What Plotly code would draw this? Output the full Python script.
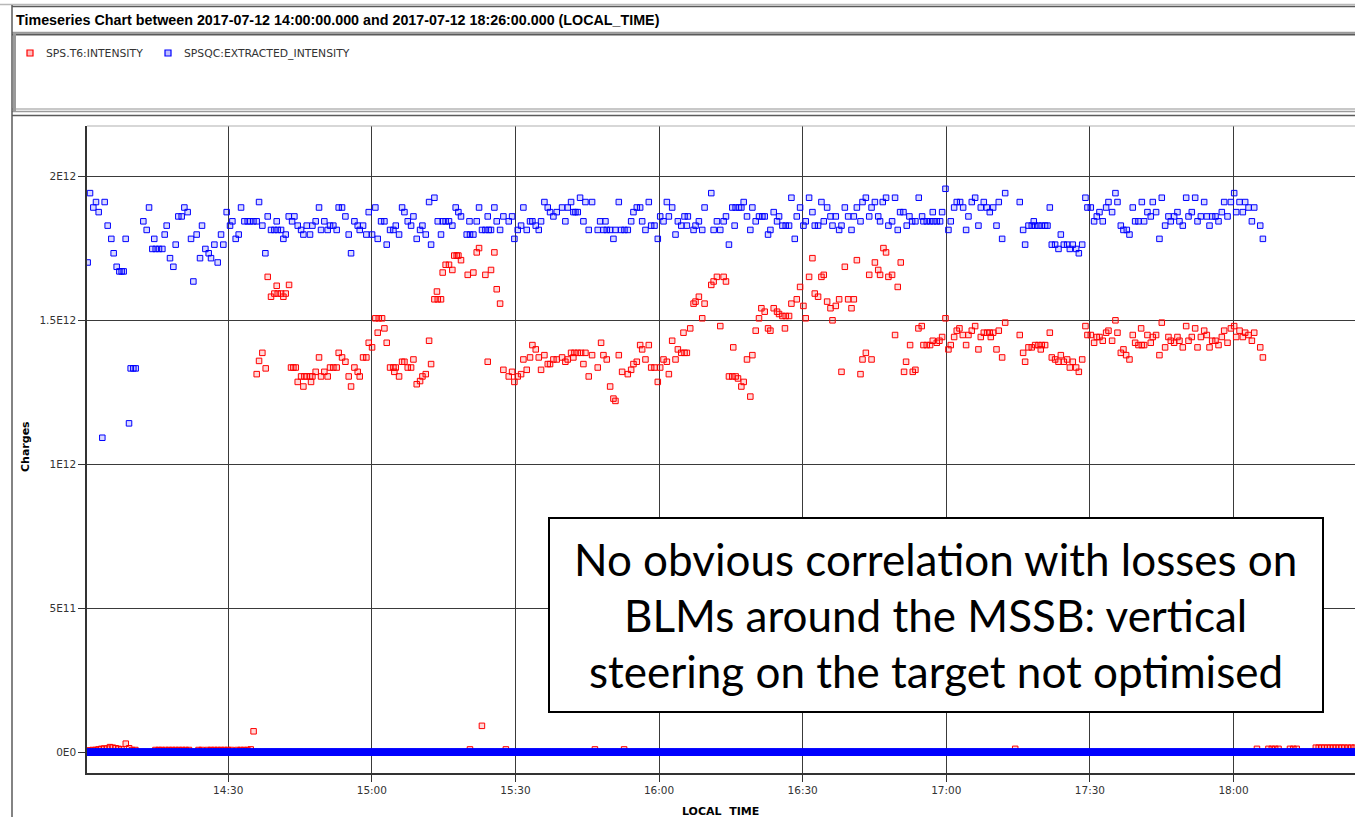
import numpy as np
import pandas as pd
import plotly.graph_objects as go

# ---------------- data (minutes after 14:00, values in units of 1E12 charges) ----------------
red_min = [
    0.5, 1.1, 1.7, 2.3, 2.9, 3.5, 4.1, 4.7, 5.3, 5.9, 6.5, 7.1, 7.7, 8.6, 9.3, 9.9, 10.6,
    14.8, 15.5, 16.1, 16.9, 17.6, 18.3, 19.0, 19.7, 20.4, 21.1, 21.8, 23.8, 24.5, 25.7, 26.4,
    27.1, 27.8, 28.5, 29.2, 29.9, 30.6, 31.9, 32.6, 33.3, 34.0, 34.7, 35.3,
    35.95, 36.44, 37.13, 37.83, 38.25, 38.94, 39.64, 40.13, 40.34, 41.04, 41.52, 42.01, 42.71,
    43.12, 43.61, 44.10, 44.52, 45.22, 45.70, 45.91, 46.39, 47.09, 47.30, 47.58, 48.27, 48.97,
    49.39, 50.08, 50.78, 51.27, 51.96, 52.66, 53.08, 53.78, 54.48, 55.17, 55.66, 56.36, 57.05,
    57.47, 58.17, 58.86, 59.35, 60.05, 60.74, 61.23, 61.45, 62.14, 62.63, 63.11, 63.81, 64.51,
    64.70, 65.00, 65.69, 66.32, 66.81, 67.50, 68.20, 68.69, 69.38, 70.08, 70.57, 71.27, 71.96,
    72.38, 73.07, 73.60, 73.77,
    74.45, 74.80, 75.42, 76.12, 76.82, 77.22, 77.73, 78.08, 78.63, 80.03, 81.21, 81.91, 82.40,
    83.72, 84.90, 85.60, 86.09, 86.79, 84.21, 87.48, 88.60, 89.30, 89.78, 90.48, 91.18, 91.66,
    92.36, 93.05, 93.54, 94.24, 94.87, 95.35, 96.05, 96.75, 97.23, 97.93, 98.63, 99.74, 100.43,
    100.92, 101.62, 102.10, 102.32, 103.02, 103.71, 104.20, 104.62, 105.31, 106.01, 107.19,
    107.89, 108.38, 109.08, 109.78, 110.47, 110.89, 111.59, 112.28, 113.47, 114.17, 114.65,
    115.35, 116.05, 116.47, 117.16, 117.86, 118.35, 119.05, 119.74, 120.24, 120.93, 121.63,
    122.05, 122.74, 123.44, 123.93, 124.63, 125.10, 125.32, 125.81, 126.51, 127.21, 127.62,
    128.32, 129.02, 129.51, 130.91, 131.40, 132.09, 132.79, 133.49, 133.98, 134.60, 135.30,
    135.50, 136.00, 136.49, 137.19, 137.68, 138.37, 139.07, 139.49, 140.19, 140.88, 141.37,
    142.07, 142.77, 143.26, 143.95, 144.65, 145.07, 145.77, 146.30, 146.46, 147.16, 147.65,
    148.77, 149.46, 150.16, 150.64, 151.34, 152.04, 152.53, 153.22, 153.92, 154.41, 155.11,
    155.81, 156.23, 156.92, 157.62, 158.11, 158.81, 159.50, 160.20, 160.69, 161.32, 162.08,
    162.50, 163.20, 163.90, 164.39, 165.09, 165.78,
    166.17, 166.87, 167.42, 167.91, 168.68, 169.30, 169.86, 170.49, 171.18, 171.60, 172.44,
    173.00, 173.55, 174.18, 174.88, 175.23, 175.92, 176.62, 177.18, 178.02, 178.57, 179.13,
    179.83, 180.45, 180.94, 181.64, 182.19, 182.75, 183.45, 184.14, 184.63, 185.33, 186.03,
    186.72, 187.21, 187.84, 188.54, 189.09, 189.30, 189.79, 190.49, 190.97, 191.67, 192.30,
    195.35, 196.05, 196.47, 197.17, 197.86, 198.56, 199.26, 199.74, 199.95, 200.65, 201.63,
    202.04, 202.74, 203.44, 203.93, 204.55, 205.25, 205.81, 206.43, 207.13, 207.69, 208.39,
    209.07, 209.49, 210.19, 210.88, 211.44, 212.00, 212.69, 213.39, 213.88, 214.64, 215.34,
    215.76, 216.46, 217.01, 217.57, 218.27, 218.96, 219.45, 220.15, 220.70, 220.85, 221.33,
    222.02, 222.72, 223.14, 223.83, 224.53, 225.02, 225.71, 226.41, 226.90, 227.60, 228.29,
    228.71, 229.41, 230.11, 230.60, 231.29, 231.99, 232.48, 233.18, 233.87, 234.43, 234.99,
    235.54, 236.24, 236.87, 237.56, 238.05, 238.75, 239.45, 240.14, 240.56, 241.26, 241.95,
    242.44, 243.14, 243.84, 244.33, 245.58, 246.14,
    80.5, 83.0, 88.0, 106.6, 112.7, 194.4, 244.9, 247.3, 248.0, 248.7, 249.4, 251.8, 252.5,
    253.2, 257.2, 257.8, 258.4, 259.0, 259.6, 260.2, 260.8, 261.4, 262.0, 262.6, 263.2, 263.9,
    264.6, 265.3,
]
red_val = [
    .006, .006, .008, .008, .010, .012, .013, .013, .018, .016, .014, .012, .010, .030, .014, .008, .008,
    .008, .008, .008, .008, .008, .008, .008, .008, .008, .008, .008, .008, .008, .008, .008,
    .008, .008, .008, .008, .008, .008, .008, .008, .008, .008, .010, .073,
    1.314, 1.360, 1.388, 1.334, 1.652, 1.583, 1.594, 1.621, 1.594, 1.594, 1.583, 1.594, 1.624,
    1.337, 1.337, 1.337, 1.287, 1.306, 1.271, 1.306, 1.306, 1.306, 1.287, 1.306, 1.322, 1.372,
    1.306, 1.322, 1.306, 1.337, 1.337, 1.337, 1.388, 1.372, 1.357, 1.306, 1.271, 1.337, 1.322,
    1.306, 1.372, 1.372, 1.423, 1.407, 1.508, 1.458, 1.508, 1.508, 1.473, 1.423, 1.337, 1.337,
    1.322, 1.337, 1.306, 1.357, 1.357, 1.337, 1.337, 1.365, 1.279, 1.290, 1.306, 1.314, 1.430,
    1.349, 1.574, 1.601, 1.574,
    1.574, 1.667, 1.694, 1.694, 1.676, 1.726, 1.726, 1.726, 1.710, 1.659, 1.667, 1.737, 1.752,
    1.659, 1.676, 1.737, 1.609, 1.559, 1.357, 1.329, 1.306, 1.322, 1.287, 1.306, 1.314, 1.365,
    1.329, 1.372, 1.415, 1.400, 1.372, 1.329, 1.380, 1.349, 1.349, 1.365, 1.365, 1.372, 1.357,
    1.365, 1.388, 1.372, 1.388, 1.388, 1.388, 1.349, 1.388, 1.306, 1.380, 1.337,
    1.423, 1.380, 1.365, 1.271, 1.229, 1.221, 1.380, 1.322, 1.314, 1.329, 1.349,
    1.357, 1.415, 1.400, 1.365, 1.415, 1.337, 1.337, 1.287, 1.337, 1.365, 1.357,
    1.314, 1.430, 1.365, 1.400, 1.388, 1.458, 1.388, 1.388, 1.473, 1.559, 1.566,
    1.583, 1.508, 1.559, 1.624, 1.636, 1.652, 1.481, 1.652, 1.636, 1.306, 1.306,
    1.407, 1.306, 1.299, 1.271, 1.287, 1.365, 1.236, 1.380, 1.465, 1.508, 1.543,
    1.531, 1.473, 1.465, 1.543, 1.531, 1.523, 1.516, 1.473, 1.516, 1.516, 1.559,
    1.574, 1.617, 1.551, 1.508, 1.652, 1.717, 1.594, 1.583, 1.652, 1.659, 1.566,
    1.543, 1.501, 1.551, 1.574, 1.322, 1.687, 1.574, 1.543, 1.574, 1.710, 1.314,
    1.365, 1.388, 1.659, 1.365, 1.702, 1.676,
    1.659, 1.752, 1.737, 1.652, 1.659, 1.450, 1.617, 1.702, 1.322, 1.357, 1.415,
    1.322, 1.329, 1.473, 1.481, 1.415, 1.415, 1.415, 1.430, 1.423, 1.430, 1.443,
    1.508, 1.400, 1.415, 1.443, 1.465, 1.473, 1.450, 1.415, 1.450, 1.465, 1.481,
    1.400, 1.443, 1.458, 1.458, 1.458, 1.443, 1.458, 1.400, 1.465, 1.372, 1.493,
    1.450, 1.388, 1.357, 1.407, 1.407, 1.415, 1.415, 1.400, 1.415, 1.415, 1.458,
    1.372, 1.365, 1.357, 1.380, 1.357, 1.365, 1.337, 1.357, 1.337, 1.322, 1.365,
    1.481, 1.450, 1.450, 1.423, 1.443, 1.443, 1.430, 1.458, 1.465, 1.430, 1.501,
    1.458, 1.388, 1.400, 1.380, 1.365, 1.450, 1.423, 1.415, 1.473, 1.415, 1.415,
    1.450, 1.423, 1.443, 1.450, 1.380, 1.493, 1.407, 1.443, 1.430, 1.423, 1.443,
    1.430, 1.407, 1.481, 1.430, 1.443, 1.473, 1.407, 1.443, 1.465, 1.450, 1.407,
    1.430, 1.430, 1.415, 1.443, 1.465, 1.423, 1.473, 1.481, 1.443, 1.465, 1.443,
    1.458, 1.450, 1.430, 1.458, 1.407, 1.372,
    .010, .092, .010, .010, .010, .012, .012, .012, .012, .012, .012, .012, .012,
    .012, .016, .016, .016, .016, .016, .016, .016, .016, .016, .016, .016, .016,
    .016, .016,
]

blue_min = [
    0.64, 1.13, 1.82, 2.38, 2.94, 3.70, 4.19, 4.82, 5.58, 6.07, 6.70, 7.26, 7.74, 8.16, 8.58,
    9.28, 9.62, 10.18, 10.67, 12.27, 12.97, 13.46, 14.15, 14.55, 14.85, 15.54, 16.24, 16.73,
    17.15, 17.84, 18.54, 19.03, 19.58, 20.28, 20.84, 21.53, 22.23, 22.72, 23.41, 24.11, 24.53,
    25.23, 25.92, 26.41, 27.11, 27.80, 28.50, 28.98, 29.68, 30.38, 30.87, 31.56, 32.19, 32.68,
    33.38, 34.07, 34.56, 35.26, 35.95, 36.44, 37.13, 37.76, 38.25, 38.94, 39.64, 40.13, 40.34,
    41.04, 41.52, 42.01, 42.64, 43.34, 43.82, 44.52, 45.22, 45.70, 46.40, 47.09, 47.58, 48.27,
    48.97, 49.39, 50.08, 50.78, 51.27, 51.96, 52.66, 53.08, 53.78, 54.48, 55.17, 55.66, 56.36,
    57.05, 57.47, 58.17, 58.86, 59.35, 60.05, 60.74, 61.23, 61.93, 62.63, 63.11, 63.81, 64.51,
    65.00, 65.69, 66.32, 66.81, 67.50, 68.20, 68.69, 69.38, 70.08, 70.57, 71.27, 71.96, 72.38,
    73.07, 73.77,
    74.45, 74.80, 75.42, 76.12, 76.82, 77.52, 78.08, 78.63, 79.82, 80.40, 80.51, 81.21, 81.91,
    82.40, 83.02, 83.72, 84.21, 84.42, 84.90, 85.60, 86.09, 86.79, 87.48, 88.60, 89.30, 89.78,
    90.48, 91.18, 91.66, 92.36, 93.05, 93.54, 94.24, 94.87, 95.35, 96.05, 96.75, 97.23, 97.93,
    98.63, 99.74, 100.43, 100.92, 101.62, 102.11, 102.53, 103.02, 103.50, 104.20, 104.62,
    105.31, 106.01, 107.19, 107.69, 108.38, 108.80, 109.08, 109.78, 110.47, 110.89, 111.59,
    112.08, 112.77, 113.47, 114.17, 114.65, 115.35, 116.05, 116.47, 117.16, 117.86, 118.35,
    119.05, 119.74, 120.24, 120.93, 121.63, 122.05, 122.74, 123.44, 123.93, 124.63, 125.32,
    125.81, 126.02, 127.21, 127.62, 128.32, 129.02, 129.51, 130.91, 131.40, 132.09, 132.79,
    133.49, 133.98, 134.60, 135.30, 135.79, 136.00, 136.70, 137.19, 137.68, 138.37, 139.07,
    139.49, 140.19, 140.88, 141.58, 142.07, 142.77, 143.26, 143.95, 144.65, 145.07, 145.77,
    146.46, 147.16, 147.65, 148.35, 148.77, 149.46, 150.16, 150.64, 151.34, 152.04, 152.53,
    153.22, 153.92, 154.41, 155.11, 155.81, 156.23, 156.92, 157.62, 158.11, 158.81, 159.50,
    160.20, 160.69, 161.32, 162.08, 162.50, 163.20, 163.90, 164.39, 165.09, 165.78,
    166.17, 166.73, 167.42, 167.91, 168.68, 169.30, 169.86, 170.35, 171.05, 171.74, 172.30,
    172.86, 173.55, 174.25, 174.95, 175.23, 175.92, 176.62, 177.18, 177.32, 178.02, 178.71,
    179.13, 179.83, 180.45, 180.94, 181.64, 182.19, 182.89, 183.52, 184.14, 184.63, 185.33,
    186.03, 186.72, 187.21, 187.84, 188.47, 189.09, 189.79, 190.49, 190.97, 191.67, 192.30,
    195.35, 196.05, 196.47, 197.17, 197.86, 198.28, 198.56, 199.26, 199.95, 200.65, 201.14,
    201.63, 202.04, 202.74, 203.44, 203.93, 204.55, 205.25, 205.81, 206.43, 207.13, 207.69,
    208.39, 209.07, 209.49, 210.19, 210.88, 211.44, 212.00, 212.69, 213.39, 213.88, 214.64,
    215.34, 215.76, 216.46, 217.01, 217.71, 218.27, 218.96, 219.45, 220.15, 220.85, 221.33,
    222.02, 222.72, 223.14, 223.83, 224.53, 225.02, 225.71, 226.41, 226.90, 227.60, 228.29,
    228.71, 229.41, 230.11, 230.60, 231.29, 231.99, 232.48, 233.18, 233.87, 234.43, 234.99,
    235.54, 236.24, 236.87, 237.56, 238.05, 238.75, 239.45, 240.14, 240.56, 241.26, 241.95,
    242.44, 243.14, 243.84, 244.33, 245.58, 246.14,
]
blue_val = [
    1.702, 1.943, 1.893, 1.912, 1.877, 1.093, 1.912, 1.830, 1.784, 1.734, 1.687, 1.671, 1.671, 1.671, 1.784,
    1.143, 1.334, 1.334, 1.334, 1.845, 1.815, 1.893, 1.749, 1.784, 1.749, 1.749, 1.749, 1.799,
    1.830, 1.717, 1.687, 1.764, 1.862, 1.862, 1.893, 1.877, 1.784, 1.636, 1.799, 1.717, 1.830,
    1.749, 1.734, 1.717, 1.764, 1.702, 1.799, 1.764, 1.877, 1.830, 1.845, 1.784, 1.799, 1.893,
    1.845, 1.845, 1.845, 1.845, 1.845, 1.912, 1.830, 1.734, 1.862, 1.815, 1.815, 1.845, 1.815,
    1.815, 1.784, 1.799, 1.862, 1.845, 1.862, 1.830, 1.815, 1.799, 1.830, 1.799, 1.830, 1.845,
    1.893, 1.815, 1.845, 1.815, 1.830, 1.830, 1.815, 1.893, 1.893, 1.862, 1.799, 1.734, 1.845,
    1.830, 1.815, 1.830, 1.799, 1.877, 1.799, 1.893, 1.784, 1.845, 1.845, 1.764, 1.815, 1.815,
    1.830, 1.799, 1.893, 1.877, 1.845, 1.830, 1.862, 1.784, 1.815, 1.830, 1.799, 1.912, 1.764,
    1.927, 1.845,
    1.799, 1.845, 1.845, 1.845, 1.830, 1.893, 1.877, 1.862, 1.799, 1.845, 1.799, 1.799, 1.845,
    1.893, 1.815, 1.815, 1.862, 1.815, 1.815, 1.893, 1.845, 1.815, 1.862, 1.845, 1.862, 1.784,
    1.815, 1.830, 1.893, 1.815, 1.845, 1.845, 1.830, 1.815, 1.845, 1.912, 1.893, 1.877, 1.862,
    1.877, 1.893, 1.845, 1.893, 1.912, 1.877, 1.877, 1.877, 1.927, 1.845, 1.912,
    1.815, 1.912, 1.815, 1.845, 1.815, 1.845, 1.815, 1.815, 1.784, 1.815, 1.912,
    1.815, 1.815, 1.815, 1.845, 1.877, 1.893, 1.893, 1.845, 1.815, 1.912, 1.830,
    1.830, 1.784, 1.862, 1.845, 1.912, 1.862, 1.893, 1.799, 1.845, 1.830, 1.862,
    1.830, 1.862, 1.815, 1.830, 1.845, 1.815, 1.893, 1.943, 1.815, 1.845, 1.815,
    1.845, 1.862, 1.764, 1.893, 1.830, 1.893, 1.893, 1.893, 1.912, 1.862, 1.815,
    1.893, 1.845, 1.862, 1.862, 1.862, 1.799, 1.815, 1.877, 1.845, 1.862, 1.830,
    1.830, 1.830, 1.927, 1.784, 1.862, 1.893, 1.830, 1.845, 1.927, 1.877, 1.830,
    1.830, 1.912, 1.845, 1.893, 1.862, 1.830, 1.862, 1.815, 1.830, 1.893, 1.862,
    1.815, 1.862, 1.893, 1.845, 1.912, 1.927, 1.862, 1.893, 1.912, 1.862,
    1.845, 1.912, 1.927, 1.830, 1.845, 1.927, 1.815, 1.877, 1.877, 1.830, 1.862,
    1.845, 1.845, 1.927, 1.862, 1.845, 1.845, 1.845, 1.877, 1.845, 1.845, 1.845,
    1.877, 1.958, 1.815, 1.845, 1.893, 1.912, 1.912, 1.893, 1.815, 1.862, 1.912,
    1.927, 1.830, 1.893, 1.912, 1.893, 1.877, 1.893, 1.830, 1.912, 1.784, 1.943,
    1.912, 1.815, 1.764, 1.830, 1.830, 1.845, 1.830, 1.830, 1.830, 1.830, 1.830,
    1.893, 1.764, 1.764, 1.749, 1.799, 1.764, 1.764, 1.749, 1.764, 1.749, 1.734,
    1.764, 1.927, 1.893, 1.893, 1.845, 1.862, 1.877, 1.845, 1.893, 1.912, 1.877,
    1.943, 1.912, 1.830, 1.815, 1.815, 1.799, 1.893, 1.845, 1.845, 1.912, 1.845,
    1.877, 1.862, 1.912, 1.877, 1.784, 1.927, 1.830, 1.862, 1.845, 1.862, 1.877,
    1.845, 1.830, 1.927, 1.862, 1.877, 1.927, 1.845, 1.862, 1.912, 1.862, 1.830,
    1.862, 1.862, 1.845, 1.877, 1.912, 1.862, 1.912, 1.943, 1.877, 1.912, 1.877,
    1.912, 1.893, 1.845, 1.893, 1.830, 1.784,
]

# the extracted intensity reads 0 between extractions: dense zero readings over the whole window
blue_zero_start_min, blue_zero_end_min, blue_zero_step_s = 0.0, 266.0, 6
blue_zero_times = pd.date_range(pd.Timestamp("2017-07-12 14:00:00") + pd.Timedelta(minutes=blue_zero_start_min),
                                pd.Timestamp("2017-07-12 14:00:00") + pd.Timedelta(minutes=blue_zero_end_min),
                                freq=f"{blue_zero_step_s}s")
blue_zero_val = [0.0] * len(blue_zero_times)

series_names = ["SPS.T6:INTENSITY", "SPSQC:EXTRACTED_INTENSITY"]
y_tick_vals = [0, 0.5e12, 1e12, 1.5e12, 2e12]
y_tick_text = ["0E0", "5E11", "1E12", "1.5E12", "2E12"]
x_tick_times = ["14:30", "15:00", "15:30", "16:00", "16:30", "17:00", "17:30", "18:00"]
title_text = "Timeseries Chart between 2017-07-12 14:00:00.000 and 2017-07-12 18:26:00.000 (LOCAL_TIME)"
note_lines = ["No obvious correlation with losses on",
              "BLMs around the MSSB: vertical",
              "steering on the target not optimised"]

# ---------------- figure ----------------
BASE = pd.Timestamp("2017-07-12 14:00:00")
def to_time(mins):
    return [BASE + pd.Timedelta(minutes=m) for m in mins]

W, H = 1355, 817
L, R, T, B = 87, 0, 126, 44
PW, PH = W - L - R, H - T - B
def X(px):
    return (px - L) / PW
def Y(py):
    return (H - B - py) / PH

RED = "#ff0000"
BLUE = "#0000ff"

fig = go.Figure()
fig.add_trace(go.Scatter(
    x=to_time(red_min), y=[v * 1e12 for v in red_val], mode="markers", name=series_names[0],
    marker=dict(symbol="square", size=5.5, color="rgba(255,0,0,0.15)", line=dict(color=RED, width=1.0)),
    showlegend=False))
fig.add_trace(go.Scatter(
    x=blue_zero_times, y=blue_zero_val, mode="markers", name=series_names[1],
    marker=dict(symbol="square", size=6, color=BLUE, line=dict(color=BLUE, width=1)),
    showlegend=False))
fig.add_trace(go.Scatter(
    x=to_time(blue_min), y=[v * 1e12 for v in blue_val], mode="markers", name=series_names[1],
    marker=dict(symbol="square", size=5.5, color="rgba(0,0,255,0.15)", line=dict(color=BLUE, width=1.0)),
    showlegend=False))

GRID = "#3a3a3a"
TICKFONT = dict(family="DejaVu Sans", size=10.5, color="#333333")
fig.update_xaxes(
    type="date",
    range=[BASE + pd.Timedelta(minutes=0.5), BASE + pd.Timedelta(minutes=265.38)],
    tickvals=[pd.Timestamp(f"2017-07-12 {t}:00") for t in x_tick_times],
    ticktext=x_tick_times,
    showgrid=True, gridcolor=GRID, gridwidth=1.3,
    showline=True, linecolor="#333333", linewidth=1.5,
    ticks="outside", ticklen=7, tickcolor="#333333", tickwidth=1.3,
    tickfont=TICKFONT, zeroline=False,
)
fig.update_yaxes(
    range=[-0.0719e12, 2.1762e12],
    tickvals=y_tick_vals, ticktext=y_tick_text,
    showgrid=True, gridcolor=GRID, gridwidth=1.3,
    showline=True, linecolor="#333333", linewidth=1.5,
    ticks="outside", ticklen=7, tickcolor="#333333", tickwidth=1.3,
    tickfont=TICKFONT, zeroline=False,
)

shapes = []
def hline(py, color, width, x0=12, x1=W + 5):
    shapes.append(dict(type="line", xref="paper", yref="paper", x0=X(x0), x1=X(x1), y0=Y(py), y1=Y(py),
                       line=dict(color=color, width=width), layer="above"))
def vline(px, color, width, y0, y1):
    shapes.append(dict(type="line", xref="paper", yref="paper", x0=X(px), x1=X(px), y0=Y(y0), y1=Y(y1),
                       line=dict(color=color, width=width), layer="above"))

# window frame decorations
hline(4.5, "#b8b8b8", 1.5, x0=0)
hline(6.5, "#5a5a5a", 1.5)
hline(32.5, "#9a9a9a", 1.5)
hline(34.5, "#5a5a5a", 2)
hline(109, "#c8c8c8", 2)
hline(111.5, "#9a9a9a", 1.5)
hline(115.5, "#5a5a5a", 1.5)
vline(12, "#5a5a5a", 1.5, 5, H)
vline(14.5, "#9a9a9a", 3, 34, 112)
# top border of plot area
hline(126, "#b0b0b0", 1.2, x0=87)

# annotation box
shapes.append(dict(type="rect", xref="paper", yref="paper", x0=X(549), x1=X(1323), y0=Y(712), y1=Y(518),
                   line=dict(color="black", width=2), fillcolor="white", layer="above"))
# legend markers
for cx, col, fill in [(30, RED, "rgba(255,0,0,0.25)"), (168, BLUE, "rgba(0,0,255,0.25)")]:
    shapes.append(dict(type="rect", xref="paper", yref="paper", x0=X(cx - 3), x1=X(cx + 3), y0=Y(56), y1=Y(50),
                       line=dict(color=col, width=1.2), fillcolor=fill, layer="above"))

annotations = []
annotations.append(dict(text=title_text, xref="paper", yref="paper", x=X(14), y=Y(20),
                        xanchor="left", yanchor="middle", showarrow=False,
                        font=dict(family="Liberation Sans Narrow, Arial Narrow, Liberation Sans", size=14.3,
                                  color="black", weight="bold")))
annotations.append(dict(text=series_names[0], xref="paper", yref="paper", x=X(44), y=Y(53),
                        xanchor="left", yanchor="middle", showarrow=False,
                        font=dict(family="DejaVu Sans", size=10.8, color="#333333")))
annotations.append(dict(text=series_names[1], xref="paper", yref="paper", x=X(182), y=Y(53),
                        xanchor="left", yanchor="middle", showarrow=False,
                        font=dict(family="DejaVu Sans", size=10.8, color="#333333")))
annotations.append(dict(text="<b>Charges</b>", xref="paper", yref="paper", x=X(25), y=Y(447),
                        xanchor="center", yanchor="middle", showarrow=False, textangle=-90,
                        font=dict(family="DejaVu Sans", size=11, color="black")))
annotations.append(dict(text="<b>LOCAL  TIME</b>", xref="paper", yref="paper", x=X(720), y=Y(811),
                        xanchor="center", yanchor="middle", showarrow=False,
                        font=dict(family="DejaVu Sans", size=11, color="black")))
for line, cy in zip(note_lines, [559, 615, 671]):
    annotations.append(dict(text=line, xref="paper", yref="paper", x=X(936), y=Y(cy),
                            xanchor="center", yanchor="middle", showarrow=False,
                            font=dict(family="Lato", size=44, color="black")))

fig.update_layout(
    width=W, height=H,
    margin=dict(l=L, r=R, t=T, b=B, pad=0),
    paper_bgcolor="white", plot_bgcolor="white",
    shapes=shapes, annotations=annotations, showlegend=False,
)

fig.write_html("out.html")
